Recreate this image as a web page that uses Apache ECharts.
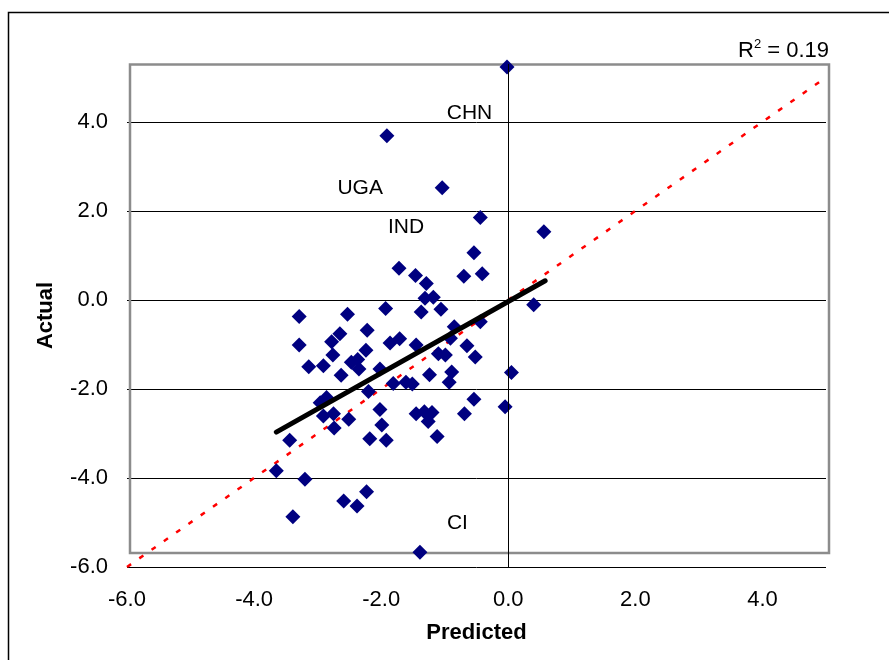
<!DOCTYPE html>
<html>
<head>
<meta charset="utf-8">
<script src="https://cdn.jsdelivr.net/npm/echarts@6/dist/echarts.min.js"></script>
<style>
  html, body { margin: 0; padding: 0; background: #fff; }
  #chart { width: 889px; height: 660px; }
</style>
</head>
<body>
<div id="chart"></div>
<script>
// scatter values
var predicted = [-0.02, -1.91, -1.04, -0.44, 0.56, -0.54, -1.72, -1.46, -1.29, -0.70,
  -0.41, -1.31, -1.18, 0.40, -3.29, -2.53, -1.93, -1.37, -1.06, -0.44,
  -0.85, -0.91, -2.22, -2.65, -2.78, -3.29, -2.76, -2.24, -1.86, -1.71,
  -1.45, -0.65, -0.52, -1.10, -0.99, -3.14, -2.91, -2.47, -2.37, -2.35,
  -2.63, -2.02, -1.24, -0.89, -0.93, 0.05, -1.81, -1.61, -1.51, -2.20,
  -2.86, -2.96, -0.54, -0.05, -2.91, -2.75, -2.51, -2.74, -2.02, -1.99,
  -1.45, -1.32, -1.20, -1.26, -0.69, -3.44, -2.18, -1.92, -1.12, -3.65,
  -3.20, -3.39, -2.59, -2.38, -2.23, -1.39];
var actual = [5.23, 3.69, 2.52, 1.85, 1.53, 1.06, 0.71, 0.55, 0.37, 0.53,
  0.59, 0.04, 0.06, -0.11, -0.37, -0.32, -0.19, -0.27, -0.21, -0.49,
  -0.60, -0.86, -0.68, -0.76, -0.94, -1.01, -1.24, -1.13, -0.97, -0.87,
  -1.01, -1.03, -1.28, -1.21, -1.24, -1.50, -1.48, -1.40, -1.34, -1.55,
  -1.69, -1.55, -1.68, -1.62, -1.85, -1.63, -1.88, -1.85, -1.89, -2.06,
  -2.19, -2.31, -2.23, -2.40, -2.61, -2.56, -2.68, -2.88, -2.46, -2.81,
  -2.56, -2.51, -2.53, -2.73, -2.56, -3.15, -3.12, -3.15, -3.07, -3.84,
  -4.03, -4.87, -4.52, -4.63, -4.31, -5.67];

// fitted line and 45 degree line
var trendX = [-3.65, 0.58];
var trendY = [-2.97, 0.43];
var diagX = [-6, 5];
var diagY = [-6, 5];

// country notes
var noteNames = ['CHN', 'UGA', 'IND', 'CI'];
var noteX = [-0.61, -2.33, -1.61, -0.80];
var noteY = [4.20, 2.52, 1.64, -5.01];

var rSquared = '0.19';

var FONT = 'Liberation Sans, Arial, sans-serif';

function zip(xs, ys) {
  return xs.map(function (x, i) { return [x, ys[i]]; });
}

function tickLabel(v) {
  if (Math.abs(v % 2) > 1e-9) return '';
  return v.toFixed(1);
}

var chart = echarts.init(document.getElementById('chart'));

var option = {
  animation: false,
  backgroundColor: '#fff',
  grid: { left: 127, right: 63, top: 64, bottom: 93, containLabel: false },
  graphic: [
    {
      type: 'rect', z: -10, silent: true,
      shape: { x: 8.5, y: 12.5, width: 1000, height: 1000 },
      style: { fill: 'none', stroke: '#000', lineWidth: 1.5 }
    },
    {
      type: 'rect', z: 1, silent: true,
      shape: { x: 130, y: 64.5, width: 699, height: 488.5 },
      style: { fill: 'none', stroke: '#8c8c8c', lineWidth: 2.5 }
    },
    {
      type: 'text', silent: true, right: 60, top: 38,
      style: {
        text: '{a|R}{s|2}{a| = ' + rSquared + '}',
        rich: {
          a: { fontFamily: FONT, fontSize: 22, fill: '#000', verticalAlign: 'bottom', lineHeight: 24 },
          s: { fontFamily: FONT, fontSize: 13, fill: '#000', verticalAlign: 'top', padding: [0, 0, 10, 0] }
        }
      }
    }
  ],
  xAxis: {
    type: 'value', min: -6, max: 5, interval: 2,
    name: 'Predicted', nameLocation: 'middle', nameGap: 55,
    nameTextStyle: { fontFamily: FONT, fontSize: 22, fontWeight: 'bold', color: '#000' },
    axisLine: { show: false },
    axisTick: { show: false },
    splitLine: { show: false },
    axisLabel: { margin: 22, fontFamily: FONT, fontSize: 22, color: '#000', formatter: tickLabel, showMaxLabel: false }
  },
  yAxis: {
    type: 'value', min: -6, max: 5.3, interval: 2,
    name: 'Actual', nameLocation: 'middle', nameGap: 70,
    nameTextStyle: { fontFamily: FONT, fontSize: 22, fontWeight: 'bold', color: '#000' },
    axisLine: { show: false },
    axisTick: { show: false },
    splitLine: { show: true, showMaxLine: false, lineStyle: { color: '#000', width: 1 } },
    axisLabel: { margin: 19, fontFamily: FONT, fontSize: 22, color: '#000', formatter: tickLabel, showMaxLabel: false }
  },
  series: [
    {
      type: 'line', silent: true, symbol: 'none', z: 2,
      data: zip(diagX, diagY),
      lineStyle: { color: '#ff0000', width: 2.5, type: [5, 10] },
      markLine: {
        silent: true, symbol: 'none', label: { show: false },
        lineStyle: { color: '#000', width: 1, type: 'solid' },
        data: [{ xAxis: 0 }]
      }
    },
    {
      type: 'scatter', silent: true, symbol: 'diamond', symbolSize: 15, z: 3,
      itemStyle: { color: '#000080', opacity: 1 },
      data: zip(predicted, actual)
    },
    {
      type: 'line', silent: true, symbol: 'none', z: 4,
      data: zip(trendX, trendY),
      lineStyle: { color: '#000', width: 5, cap: 'round' }
    },
    {
      type: 'scatter', silent: true, symbolSize: 0, z: 5,
      itemStyle: { opacity: 1 },
      label: {
        show: true, position: 'inside', formatter: '{b}',
        fontFamily: FONT, fontSize: 21, color: '#000', opacity: 1, textBorderWidth: 0
      },
      data: noteNames.map(function (n, i) { return { name: n, value: [noteX[i], noteY[i]] }; })
    }
  ]
};

chart.setOption(option);
</script>
</body>
</html>
